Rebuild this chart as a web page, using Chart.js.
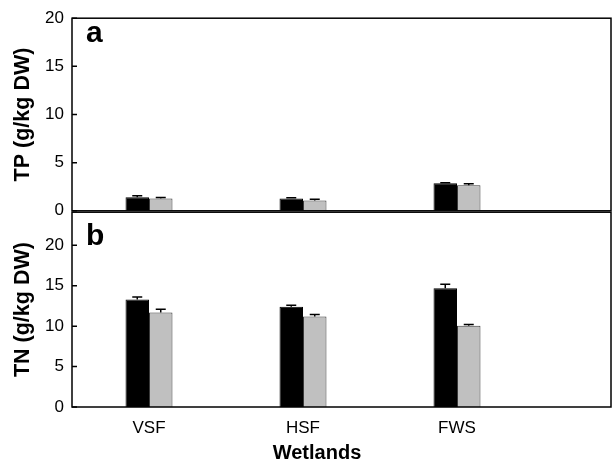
<!DOCTYPE html>
<html>
<head>
<meta charset="utf-8">
<script src="https://cdn.jsdelivr.net/npm/chart.js@4.4.1/dist/chart.umd.min.js"></script>
<style>
  body { margin: 0; background: #fff; }
  #wrap { position: relative; width: 615px; height: 465px; }
  canvas { position: absolute; left: 0; }
</style>
</head>
<body>
<div id="wrap">
  <canvas id="tp" width="615" height="229" style="top:0"></canvas>
  <canvas id="tn" width="615" height="271" style="top:194px"></canvas>
</div>
<script>
// data
const wetlands = ["VSF", "HSF", "FWS"];
const tpBlack = [1.42, 1.28, 2.87];
const tpBlackErr = [0.13, 0.07, 0.05];
const tpGray = [1.28, 1.07, 2.66];
const tpGrayErr = [0.10, 0.14, 0.14];
const tnBlack = [13.3, 12.4, 14.7];
const tnBlackErr = [0.30, 0.20, 0.50];
const tnGray = [11.7, 11.2, 10.05];
const tnGrayErr = [0.40, 0.25, 0.15];
const yTicks = [0, 5, 10, 15, 20];

const FONT = '"Liberation Sans", Arial, sans-serif';

const toPoints = (vals) => vals.map((v, i) => ({ x: i + 1, y: v }));

// error bars, frame, inward ticks, panel letters
const panelDeco = {
  id: "panelDeco",
  afterDatasetsDraw(chart) {
    const ctx = chart.ctx;
    const y = chart.scales.y;
    chart.data.datasets.forEach((ds, i) => {
      chart.getDatasetMeta(i).data.forEach((bar, j) => {
        const top = y.getPixelForValue(ds.data[j].y + ds.errors[j]);
        ctx.save();
        ctx.strokeStyle = "#000";
        ctx.lineWidth = 1.5;
        ctx.beginPath();
        ctx.moveTo(bar.x, bar.y);
        ctx.lineTo(bar.x, top);
        ctx.moveTo(bar.x - 5, top);
        ctx.lineTo(bar.x + 5, top);
        ctx.stroke();
        ctx.restore();
      });
    });
  },
  afterDraw(chart, args, opts) {
    const ctx = chart.ctx;
    const a = chart.chartArea;
    const y = chart.scales.y;
    ctx.save();
    ctx.strokeStyle = "#000";
    ctx.lineWidth = 1.5;
    ctx.strokeRect(a.left, a.top, a.right - a.left, a.bottom - a.top);
    ctx.beginPath();
    y.ticks.forEach((t) => {
      const py = y.getPixelForValue(t.value);
      ctx.moveTo(a.left, py);
      ctx.lineTo(a.left + 5, py);
    });
    ctx.stroke();
    ctx.fillStyle = "#000";
    ctx.font = "bold 30px " + FONT;
    ctx.fillText(opts.letter, a.left + 14, a.top + opts.letterY);
    if (opts.xTitle) {
      ctx.textAlign = "center";
      ctx.font = "bold 20px " + FONT;
      ctx.fillText(opts.xTitle, 317, a.bottom + 52);
    }
    ctx.restore();
  }
};

function makePanel(id, blackVals, blackErr, grayVals, grayErr, yMax, yTitle, letter, letterY, showX, pad) {
  return new Chart(document.getElementById(id), {
    type: "bar",
    data: {
      datasets: [
        {
          label: "Series 1",
          data: toPoints(blackVals),
          errors: blackErr,
          backgroundColor: "#000000",
          borderColor: "#000000",
          borderWidth: 1,
        },
        {
          label: "Series 2",
          data: toPoints(grayVals),
          errors: grayErr,
          backgroundColor: "#c0c0c0",
          borderColor: "#3a3a3a",
          borderWidth: 1,
        },
      ],
    },
    plugins: [panelDeco],
    options: {
      responsive: false,
      animation: false,
      categoryPercentage: 0.305,
      barPercentage: 1.0,
      layout: { padding: pad },
      plugins: {
        legend: { display: false },
        tooltip: { enabled: false },
        panelDeco: { letter: letter, letterY: letterY, xTitle: showX ? "Wetlands" : null },
      },
      scales: {
        x: {
          type: "linear",
          display: showX,
          offset: false,
          min: 0.5,
          max: 4.0,
          grid: { display: false, drawTicks: false },
          border: { display: false },
          afterBuildTicks: (s) => { s.ticks = wetlands.map((w, i) => ({ value: i + 1 })); },
          afterFit: (s) => { if (showX) s.height = 58; },
          ticks: {
            color: "#000",
            padding: 11,
            font: { family: FONT, size: 17 },
            maxRotation: 0,
            callback: (v) => wetlands[v - 1] || "",
          },
        },
        y: {
          min: 0,
          max: yMax,
          grid: { display: false, drawTicks: false },
          border: { display: false },
          afterBuildTicks: (s) => { s.ticks = yTicks.map((v) => ({ value: v })); },
          afterFit: (s) => { s.width = 72; },
          ticks: {
            color: "#000",
            padding: 8,
            font: { family: FONT, size: 17 },
          },
          title: {
            display: true,
            text: yTitle,
            color: "#000",
            padding: { top: 10, bottom: 0 },
            font: { family: FONT, size: 21.5, weight: "bold" },
          },
        },
      },
    },
  });
}

var tpChart = makePanel("tp", tpBlack, tpBlackErr, tpGray, tpGrayErr, 20, "TP (g/kg DW)", "a", 24,
  false, { top: 18, right: 4, bottom: 14, left: 0 });
var tnChart = makePanel("tn", tnBlack, tnBlackErr, tnGray, tnGrayErr, 24.1, "TN (g/kg DW)", "b", 33,
  true, { top: 6, right: 4, bottom: 0, left: 0 });
</script>
</body>
</html>
